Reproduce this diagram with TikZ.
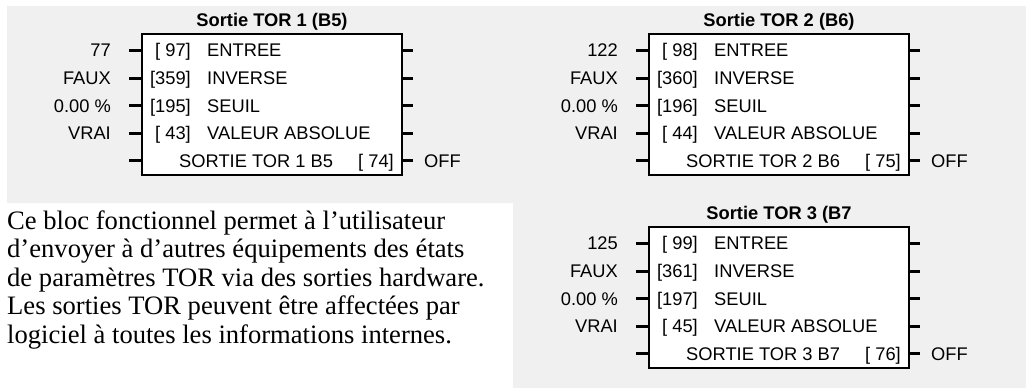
\documentclass[tikz,border=0pt]{standalone}
\usepackage{fontspec}
\setmainfont{Liberation Serif}
\setsansfont{Liberation Sans}
\definecolor{bggray}{HTML}{F0F0F0}
\tikzset{
  boxst/.style={draw=black, line width=2pt, fill=white, anchor=north west,
    minimum width=260pt, minimum height=141pt, inner sep=0pt, outer sep=0pt},
  stub/.style={line width=3pt},
  sf/.style={font=\sffamily\fontsize{18.3}{20}\selectfont, inner sep=0pt},
  rlab/.style={sf, anchor=base east},
  llab/.style={sf, anchor=base west},
  titlest/.style={font=\sffamily\bfseries\fontsize{18.3}{20}\selectfont, inner sep=0pt, anchor=base},
  para/.style={font=\rmfamily\fontsize{26.6}{28}\selectfont, inner sep=0pt, anchor=base west},
}
\newcommand\tblock[7]{%
  % #1 id, #2 x, #3 y (top), #4 title, #5 rows, #6 bottom text, #7 bottom number
  \node[boxst] (#1) at (#2,#3) {};
  \node[titlest] (#1t) at (#2+130,#3-8) {#4};
  \foreach \va/\nb/\ta [count=\k] in {#5} {
    \pgfmathsetmacro\yy{#3+16.5+27.6*(\k-1)}
    \coordinate (#1l\k) at (#2-13,\yy);
    \coordinate (#1r\k) at (#2+271,\yy);
    \draw[stub] (#1l\k) -- (#1l\k -| #1.west);
    \draw[stub] (#1.east |- #1r\k) -- (#1r\k);
    \node[rlab] (#1v\k) at (#2-31,\yy+6.3) {\va};
    \node[rlab] (#1n\k) at (#2+49,\yy+6.3) {\nb};
    \node[llab] (#1m\k) at (#2+65,\yy+6.3) {\ta};
  }
  \pgfmathsetmacro\yy{#3+16.5+27.6*4}
  \coordinate (#1l5) at (#2-13,\yy);
  \coordinate (#1r5) at (#2+271,\yy);
  \draw[stub] (#1l5) -- (#1l5 -| #1.west);
  \draw[stub] (#1.east |- #1r5) -- (#1r5);
  \node[llab] (#1m5) at (#2+37,\yy+6.3) {#6};
  \node[rlab] (#1n5) at (#2+252,\yy+6.3) {#7};
  \node[llab] (#1o5) at (#2+282,\yy+6.3) {OFF};
}
\begin{document}
\begin{tikzpicture}[x=1pt,y=-1pt]
  \useasboundingbox (0,0) rectangle (1026,388);
  \fill[white] (0,0) rectangle (1026,388);
  \fill[bggray] (7,6) -- (1026,6) -- (1026,388) -- (513,388) -- (513,203) -- (7,203) -- cycle;
  \tblock{A}{142}{34}{Sortie TOR 1 (B5)}%
    {77/{[ 97]}/ENTREE, FAUX/{[359]}/INVERSE, {0.00 \%}/{[195]}/SEUIL, VRAI/{[ 43]}/{VALEUR ABSOLUE}}%
    {SORTIE TOR 1 B5}{[ 74]}
  \tblock{B}{649}{34}{Sortie TOR 2 (B6)}%
    {122/{[ 98]}/ENTREE, FAUX/{[360]}/INVERSE, {0.00 \%}/{[196]}/SEUIL, VRAI/{[ 44]}/{VALEUR ABSOLUE}}%
    {SORTIE TOR 2 B6}{[ 75]}
  \tblock{C}{649}{227}{Sortie TOR 3 (B7}%
    {125/{[ 99]}/ENTREE, FAUX/{[361]}/INVERSE, {0.00 \%}/{[197]}/SEUIL, VRAI/{[ 45]}/{VALEUR ABSOLUE}}%
    {SORTIE TOR 3 B7}{[ 76]}
  \node[para] (p1) at (7,229) {Ce bloc fonctionnel permet à l’utilisateur};
  \node[para] (p2) at (7,257.5) {d’envoyer à d’autres équipements des états};
  \node[para] (p3) at (7,286) {de paramètres TOR via des sorties hardware.};
  \node[para] (p4) at (7,314.5) {Les sorties TOR peuvent être affectées par};
  \node[para] (p5) at (7,343) {logiciel à toutes les informations internes.};
\end{tikzpicture}
\end{document}
